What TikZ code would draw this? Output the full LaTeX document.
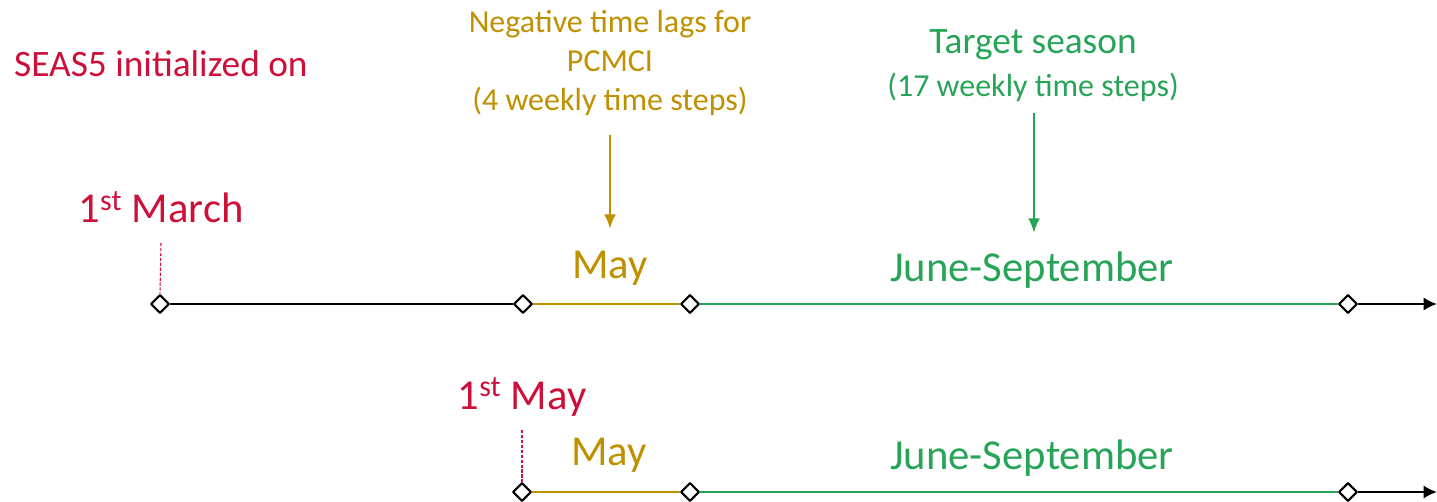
\documentclass[tikz,border=0pt]{standalone}
\usepackage{fontspec}
\setmainfont{Carlito}
\usetikzlibrary{arrows.meta}
\usetikzlibrary{shapes}

\begin{document}
\begin{tikzpicture}[>={Latex[length=11pt,width=9pt]},line join=bevel,x=0.75pt,y=-0.75pt]
%%
\useasboundingbox (0,0) rectangle (1437,502);
  \definecolor{seasred}{RGB}{204,16,58};
  \definecolor{maygold}{RGB}{191,144,0};
  \definecolor{jjasgreen}{RGB}{40,164,88};
  \tikzset{datept/.style={draw=black,fill=white,diamond,inner sep=0pt,minimum size=14pt,line width=1.6pt},
    timeline/.style={line width=2.1pt},
    pointer/.style={line width=1.9pt,->},
    initline/.style={seasred,line width=0.8pt,dash pattern=on 2.5pt off 1.2pt}}
%% labels
  \node (Init) at (161,64) [text=seasred,font=\fontsize{28}{32}\selectfont] {SEAS5 initialized on};
  \node (March) at (161,207) [text=seasred,font=\fontsize{32}{36}\selectfont] {1\textsuperscript{st} March};
  \node (Lags) at (610,63) [text=maygold,align=center,font=\fontsize{24}{29.5}\selectfont] {Negative time lags for\\PCMCI\\(4 weekly time steps)};
  \node (Target) at (1033,45) [text=jjasgreen,font=\fontsize{28}{32}\selectfont] {Target season};
  \node (Steps) at (1033,87) [text=jjasgreen,font=\fontsize{24}{28}\selectfont] {(17 weekly time steps)};
  \node (MayA) at (610,268) [text=maygold,font=\fontsize{32}{36}\selectfont] {May};
  \node (JjasA) at (1032,270) [text=jjasgreen,font=\fontsize{32}{36}\selectfont] {June-September};
  \node (MayOne) at (522,397) [text=seasred,font=\fontsize{32}{36}\selectfont] {1\textsuperscript{st} May};
  \node (MayB) at (609,455) [text=maygold,font=\fontsize{32}{36}\selectfont] {May};
  \node (JjasB) at (1032,458) [text=jjasgreen,font=\fontsize{32}{36}\selectfont] {June-September};
%% first timeline
  \coordinate (marchtop) at (161,243);
  \coordinate (endA) at (1437,304);
  \coordinate (lagtop) at (610,135);
  \coordinate (lagbot) at (610,229);
  \coordinate (tgttop) at (1034,113);
  \coordinate (tgtbot) at (1034,233);
  \node (a1) at (160,304) [datept] {};
  \node (a2) at (523,304) [datept] {};
  \node (a3) at (690,304) [datept] {};
  \node (a4) at (1348,304) [datept] {};
  \draw [initline] (marchtop) -- (a1.north);
  \draw [timeline] (a1) -- (a2);
  \draw [timeline,maygold] (a2) -- (a3);
  \draw [timeline,jjasgreen] (a3) -- (a4);
  \draw [timeline,-{Latex[length=10pt,width=10pt]}] (a4) -- (endA);
  \draw [pointer,maygold] (lagtop) -- (lagbot);
  \draw [pointer,jjasgreen] (tgttop) -- (tgtbot);
%% second timeline
  \coordinate (maytop) at (522,430);
  \coordinate (endB) at (1437,492);
  \node (b1) at (522,492) [datept] {};
  \node (b2) at (690,492) [datept] {};
  \node (b3) at (1348,492) [datept] {};
  \draw [initline] (maytop) -- (b1.north);
  \draw [timeline,maygold] (b1) -- (b2);
  \draw [timeline,jjasgreen] (b2) -- (b3);
  \draw [timeline,-{Latex[length=10pt,width=10pt]}] (b3) -- (endB);
%
\end{tikzpicture}
\end{document}
